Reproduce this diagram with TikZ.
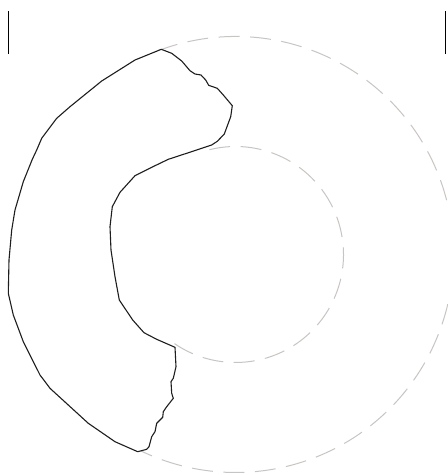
\documentclass[tikz,border=0pt]{standalone}
\begin{document}
\begin{tikzpicture}[x=1pt,y=-1pt,
  guide/.style={draw={rgb,255:red,200;green,196;blue,193},line width=1pt,dash pattern=on 21pt off 10.5pt},
  outline/.style={draw={rgb,255:red,30;green,30;blue,30},line width=1.1pt,fill=white,line join=round},
  tick/.style={draw=black,line width=1.2pt}]
\useasboundingbox (0,0) rectangle (448,475);
\coordinate (c) at (235.5,254.5);
\draw[guide] ([shift={(111:218pt)}]c) arc[start angle=111, end angle=-118, radius=218pt];
\draw[guide] ([shift={(104:108pt)}]c) arc[start angle=104, end angle=-125, radius=108pt];
\draw[outline] (161.3,49.3) -- (171.7,53.3) -- (181.7,61) -- (190,70.7) -- (195,74) -- (201,75) -- (205.7,80) -- (208.7,85.3) -- (217.3,88.3) -- (223.3,95) -- (232.3,105.7) -- (230.7,116.7) -- (224.3,134) -- (217.3,141.3) -- (211.7,145) -- (196.7,150) -- (168.3,159.3) -- (151.7,167.3) -- (135,175.7) -- (120,192.3) -- (112.3,206.7) -- (110,226.7) -- (111,250) -- (115,276.7) -- (119.3,300) -- (126,310) -- (132.7,320) -- (144,332.7) -- (156.7,339.3) -- (175,347.3) -- (176,366.7) -- (173.3,378.3) -- (171,381.7) -- (171.7,393.3) -- (173.3,398.3) -- (166.7,406.7) -- (163.3,411.7) -- (162.7,417.3) -- (156.7,423.3) -- (155,431.7) -- (151.7,436.7) -- (149,446.7) -- (146.7,449.3) -- (137.7,451.7) -- (115,441.7) -- (88.3,423.3) -- (50,388.3) -- (40,375) -- (23.3,341.7) -- (13.3,315) -- (8.3,293.3) -- (9,260) -- (11.7,230) -- (15,210) -- (23.3,181.7) -- (32.3,159.3) -- (36.7,150) -- (41.7,138.3) -- (56.7,118.3) -- (70,106.7) -- (101.7,81) -- (135,60) -- cycle;
\coordinate (lt) at (8.3,11);
\coordinate (lb) at (8.3,54);
\coordinate (rt) at (445.7,11);
\coordinate (rb) at (445.7,54);
\draw[tick] (lt) -- (lb);
\draw[tick] (rt) -- (rb);
\end{tikzpicture}
\end{document}
